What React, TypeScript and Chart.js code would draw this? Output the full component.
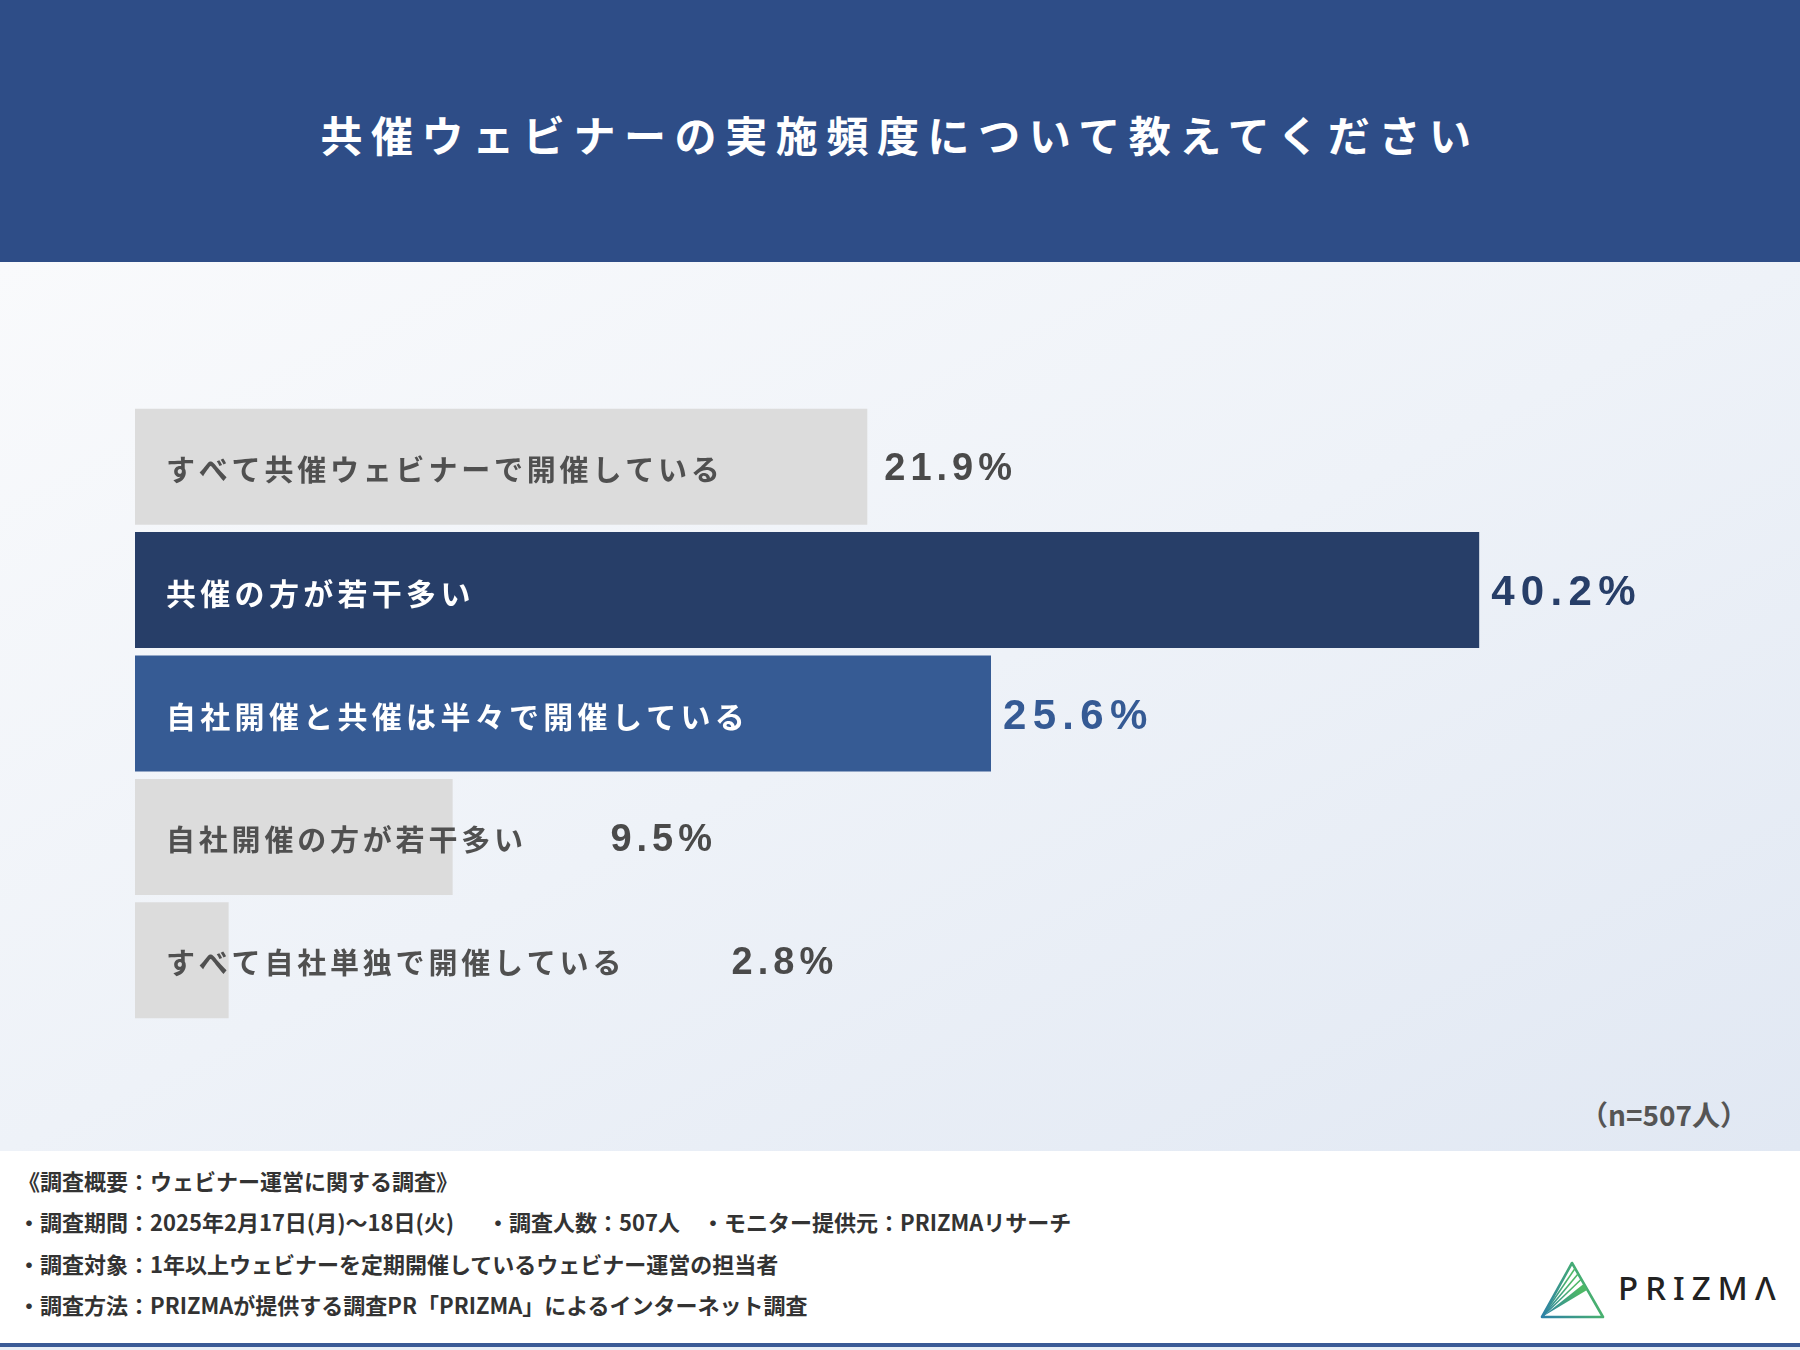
import React, { useEffect, useRef } from "react";
import { Chart, registerables } from "chart.js";

Chart.register(...registerables);

const titleText = "共催ウェビナーの実施頻度について教えてください";
const categories = [
  "すべて共催ウェビナーで開催している",
  "共催の方が若干多い",
  "自社開催と共催は半々で開催している",
  "自社開催の方が若干多い",
  "すべて自社単独で開催している",
];
const values = [21.9, 40.2, 25.6, 9.5, 2.8];
const barColors = ["#DCDCDC", "#273E68", "#365B94", "#DCDCDC", "#DCDCDC"];
const labelColors = ["#505050", "#FFFFFF", "#FFFFFF", "#505050", "#505050"];
const valueColors = ["#4A4A4A", "#273E68", "#355A94", "#4A4A4A", "#4A4A4A"];
const emphasized = [false, true, true, false, false];
const sampleNote = "（n=507人）";
const footerLines = [
  "《調査概要：ウェビナー運営に関する調査》",
  "・調査期間：2025年2月17日(月)〜18日(火)\u3000\u2002・調査人数：507人\u3000・モニター提供元：PRIZMAリサーチ",
  "・調査対象：1年以上ウェビナーを定期開催しているウェビナー運営の担当者",
  "・調査方法：PRIZMAが提供する調査PR「PRIZMA」によるインターネット調査",
];
const xMax = 48;

const JP = "'Noto Sans CJK JP', 'Noto Sans', sans-serif";

const labelPlugin = {
  id: "barLabels",
  afterDatasetsDraw(chart: any) {
    const ctx = chart.ctx as CanvasRenderingContext2D;
    const meta = chart.getDatasetMeta(0);
    meta.data.forEach((bar: any, i: number) => {
      const { x, y, base } = bar.getProps(["x", "y", "base"], true);
      ctx.save();
      const em = emphasized[i];
      ctx.font = `bold ${em ? 30 : 29}px ${JP}`;
      (ctx as any).letterSpacing = em ? "4.3px" : "3.8px";
      ctx.fillStyle = labelColors[i];
      ctx.textBaseline = "middle";
      ctx.textAlign = "left";
      const lx = base + 31;
      ctx.fillText(categories[i], lx, y + 3);
      const size = em ? 42 : 38;
      ctx.font = `bold ${size}px 'Liberation Sans', Arial, sans-serif`;
      (ctx as any).letterSpacing = em ? "6.3px" : "5px";
      ctx.fillStyle = valueColors[i];
      ctx.textBaseline = "alphabetic";
      const vx = Math.max(x + (em ? 12 : 17), lx + categories[i].length * 40.4);
      ctx.fillText(values[i].toFixed(1) + "%", vx, y + (size * 0.716) / 2);
      ctx.restore();
    });
  },
};

function BarChart() {
  const ref = useRef<HTMLCanvasElement | null>(null);
  useEffect(() => {
    if (!ref.current) return;
    const chart = new Chart(ref.current, {
      type: "bar",
      data: {
        labels: categories,
        datasets: [
          {
            data: values,
            backgroundColor: barColors,
            borderWidth: 0,
            barPercentage: 0.94,
            categoryPercentage: 1,
          },
        ],
      },
      options: {
        indexAxis: "y",
        animation: false,
        responsive: false,
        devicePixelRatio: 1,
        layout: { padding: 0 },
        plugins: { legend: { display: false }, tooltip: { enabled: false } },
        scales: {
          x: { min: 0, max: xMax, display: false },
          y: { display: false },
        },
      },
      plugins: [labelPlugin],
    } as any);
    return () => chart.destroy();
  }, []);
  return (
    <canvas
      ref={ref}
      width={1605}
      height={617}
      style={{ position: "absolute", left: 135, top: 405, width: 1605, height: 617 }}
    />
  );
}

function Logo() {
  return (
    <div style={{ position: "absolute", left: 1540, top: 1260, width: 250, height: 60 }}>
      <svg width="66" height="60" viewBox="0 0 66 60" style={{ position: "absolute", left: 0, top: 0 }}>
        <defs>
          <linearGradient id="lg" x1="0" y1="1" x2="1" y2="0.6">
            <stop offset="0" stopColor="#2C7FA8" />
            <stop offset="1" stopColor="#4DB866" />
          </linearGradient>
        </defs>
        <polygon points="2,57 32,3 63,57" fill="none" stroke="url(#lg)" strokeWidth="2.6" strokeLinejoin="round" />
        <line x1="2" y1="57" x2="35" y2="8.5" stroke="url(#lg)" strokeWidth="1.6" />
        <line x1="2" y1="57" x2="38" y2="14" stroke="url(#lg)" strokeWidth="1.6" />
        <line x1="2" y1="57" x2="41" y2="19.5" stroke="url(#lg)" strokeWidth="1.6" />
        <polygon points="2,57 43.5,24 47,30" fill="url(#lg)" />
      </svg>
      <div
        style={{
          position: "absolute",
          left: 78,
          top: 7,
          fontFamily: "'Noto Sans', 'Open Sans', sans-serif",
          fontWeight: 500,
          fontSize: 33,
          letterSpacing: 7,
          color: "#222",
          lineHeight: "42px",
          whiteSpace: "nowrap",
        }}
      >
        PRIZMΛ
      </div>
    </div>
  );
}

export default function App() {
  return (
    <div
      style={{
        position: "absolute",
        left: 0,
        top: 0,
        width: 1800,
        height: 1350,
        overflow: "hidden",
        background: "#FFFFFF",
        fontFamily: JP,
      }}
    >
      <div
        style={{
          position: "absolute",
          left: 0,
          top: 0,
          width: 1800,
          height: 262,
          background: "#2E4D87",
        }}
      >
        <div
          style={{
            position: "absolute",
            left: 0,
            width: 1800,
            top: 106,
            lineHeight: "56px",
            textAlign: "center",
            color: "#FFFFFF",
            fontWeight: 700,
            fontSize: 42,
            letterSpacing: 8.6,
            whiteSpace: "nowrap",
          }}
        >
          {titleText}
        </div>
      </div>
      <div
        style={{
          position: "absolute",
          left: 0,
          top: 262,
          width: 1800,
          height: 889,
          background: "linear-gradient(to bottom right, #F9FAFC 0%, #EEF2F8 50%, #E1E8F3 100%)",
        }}
      />
      <BarChart />
      <div
        style={{
          position: "absolute",
          right: 52,
          top: 1096,
          fontSize: 28,
          fontWeight: 700,
          color: "#555555",
          lineHeight: "36px",
          whiteSpace: "nowrap",
        }}
      >
        {sampleNote}
      </div>
      {footerLines.map((t, i) => (
        <div
          key={i}
          style={{
            position: "absolute",
            left: 18,
            top: 1180 + i * 41.3 - 15,
            fontSize: 22,
            fontWeight: 700,
            color: "#333333",
            lineHeight: "30px",
            whiteSpace: "pre",
          }}
        >
          {t}
        </div>
      ))}
      <Logo />
      <div style={{ position: "absolute", left: 0, top: 1343, width: 1800, height: 4, background: "#3A5A96" }} />
      <div style={{ position: "absolute", left: 0, top: 1347, width: 1800, height: 3, background: "#E8EEF6" }} />
    </div>
  );
}
